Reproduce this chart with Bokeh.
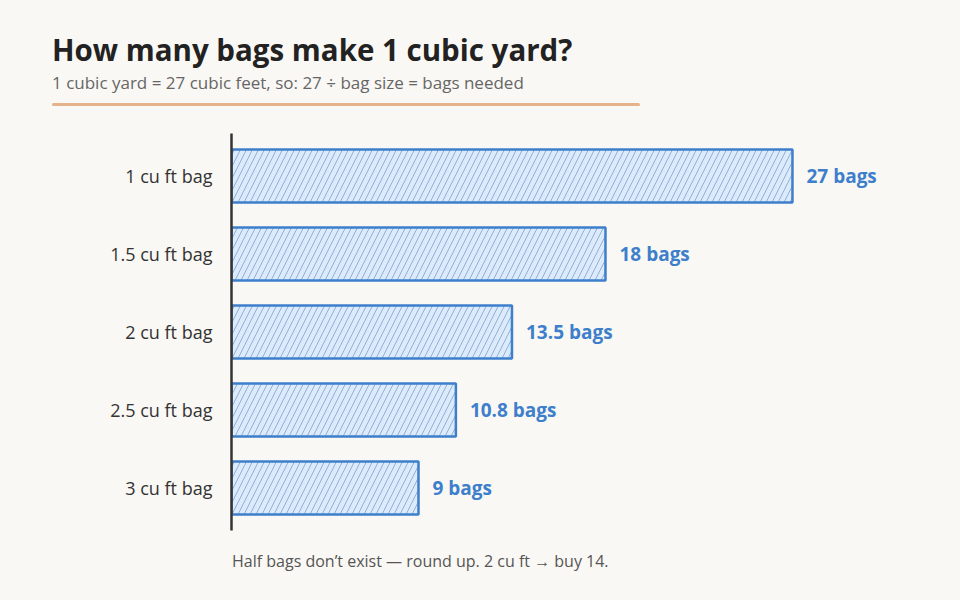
from bokeh.plotting import figure
from bokeh.models import ColumnDataSource, FactorRange, Range1d, Div
from bokeh.layouts import column
from bokeh.embed import file_html
from bokeh.resources import INLINE
from bokeh.core.properties import value

categories = ["1 cu ft bag", "1.5 cu ft bag", "2 cu ft bag", "2.5 cu ft bag", "3 cu ft bag"]
bags = [27, 18, 13.5, 10.8, 9]
labels = ["27 bags", "18 bags", "13.5 bags", "10.8 bags", "9 bags"]

title_text = "How many bags make 1 cubic yard?"
subtitle_text = "1 cubic yard = 27 cubic feet, so: 27 \u00f7 bag size = bags needed"
note_text = "Half bags don\u2019t exist \u2014 round up. 2 cu ft \u2192 buy 14."

FONT = "Open Sans"
BG = "#FAF8F4"
BLUE = "#3D7FCB"

header = Div(width=960, height=118, styles={"background-color": BG, "margin": "0"}, text=f"""
<div style="position:relative;width:960px;height:118px;background:{BG};font-family:'{FONT}',sans-serif;">
  <div style="position:absolute;left:52px;top:30px;font-size:29.5px;font-weight:bold;line-height:40px;color:#222222;white-space:nowrap;">{title_text}</div>
  <div style="position:absolute;left:52px;top:72px;font-size:17px;line-height:22px;color:#666666;white-space:nowrap;">{subtitle_text}</div>
  <div style="position:absolute;left:52px;top:103px;width:588px;height:3px;background:#E4B38C;border-radius:2px;"></div>
</div>""")

footer = Div(width=960, height=55, styles={"background-color": BG, "margin": "0"}, text=f"""
<div style="position:relative;width:960px;height:55px;background:{BG};font-family:'{FONT}',sans-serif;">
  <div style="position:absolute;left:232px;top:5px;font-size:16px;line-height:22px;color:#555555;white-space:nowrap;">{note_text}</div>
</div>""")

src = ColumnDataSource(dict(cat=categories, bags=bags, lab=labels))

p = figure(width=960, height=427, output_backend="svg", toolbar_location=None,
           y_range=FactorRange(factors=list(reversed(categories)), range_padding=0.018),
           x_range=Range1d(0, 32.2),
           min_border_left=231, min_border_right=60, min_border_top=15, min_border_bottom=15)
p.background_fill_color = BG
p.border_fill_color = BG
p.outline_line_color = None
p.grid.visible = False
p.xaxis.visible = False

p.yaxis.axis_line_width = 2.5
p.yaxis.axis_line_color = "#333333"
p.yaxis.major_tick_line_color = None
p.yaxis.minor_tick_line_color = None
p.yaxis.major_label_standoff = 13
p.yaxis.major_label_text_font = FONT
p.yaxis.major_label_text_font_size = "18px"
p.yaxis.major_label_text_color = "#333333"

p.hbar(y="cat", right="bags", left=0, height=0.68, source=src,
       fill_color="#DCEAF9", line_color=BLUE, line_width=2.5,
       hatch_pattern="/", hatch_color="#8DB0DC", hatch_weight=1, hatch_scale=12, hatch_alpha=1)

p.text(x="bags", y="cat", text="lab", source=src, x_offset=14,
       text_align="left", text_baseline="middle", text_color=BLUE,
       text_font=value(FONT), text_font_style="bold", text_font_size="19px")

layout = column(header, p, footer, spacing=0, styles={"background-color": BG})
open("out.html", "w").write(file_html(layout, INLINE))
